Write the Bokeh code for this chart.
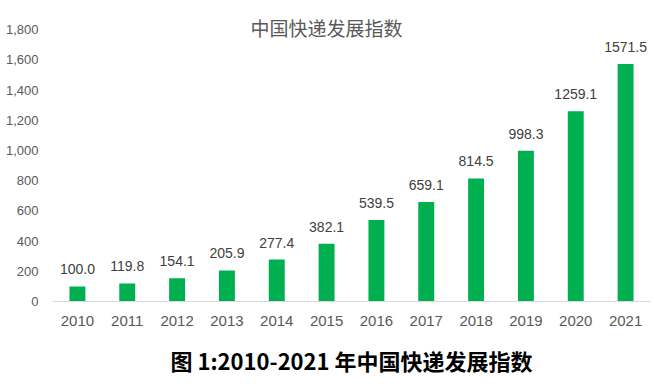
from bokeh.plotting import figure
from bokeh.models import ColumnDataSource, FixedTicker, NumeralTickFormatter, Label, Range1d, Title
from bokeh.core.properties import value
from bokeh.embed import file_html
from bokeh.resources import INLINE

years = ["2010", "2011", "2012", "2013", "2014", "2015", "2016", "2017", "2018", "2019", "2020", "2021"]
values = [100.0, 119.8, 154.1, 205.9, 277.4, 382.1, 539.5, 659.1, 814.5, 998.3, 1259.1, 1571.5]
value_labels = ["100.0", "119.8", "154.1", "205.9", "277.4", "382.1", "539.5", "659.1", "814.5", "998.3", "1259.1", "1571.5"]
y_ticks = [0, 200, 400, 600, 800, 1000, 1200, 1400, 1600, 1800]

title_text = "中国快递发展指数"
caption_text = "图 1:2010-2021 年中国快递发展指数"

src = ColumnDataSource(dict(x=years, top=values, lab=value_labels))

p = figure(x_range=years, y_range=Range1d(0, 1900), width=654, height=389,
           output_backend="svg", toolbar_location=None,
           min_border_left=52, min_border_right=4, min_border_top=14, min_border_bottom=11)
p.x_range.range_padding = 0
p.outline_line_color = None
p.xgrid.grid_line_color = None
p.ygrid.grid_line_color = None
p.background_fill_color = "white"
p.border_fill_color = "white"

p.vbar(x="x", top="top", width=0.32, source=src, color="#00B050", line_color=None)
p.text(x="x", y="top", text="lab", source=src, text_align="center", text_baseline="bottom",
       y_offset=-12, text_font_size="14px", text_color="#404040", text_font=value("Liberation Sans"))

p.yaxis.ticker = FixedTicker(ticks=y_ticks)
p.yaxis.formatter = NumeralTickFormatter(format="0,0")
p.yaxis.axis_line_color = None
p.yaxis.major_tick_line_color = None
p.yaxis.minor_tick_line_color = None
p.yaxis.major_label_text_font_size = "13px"
p.yaxis.major_label_text_color = "#595959"
p.yaxis.major_label_text_font = "Liberation Sans"
p.yaxis.major_label_standoff = 8

p.xaxis.axis_line_color = "#D9D9D9"
p.xaxis.axis_line_width = 1
p.xaxis.major_tick_line_color = None
p.xaxis.minor_tick_line_color = None
p.xaxis.major_label_text_font_size = "15px"
p.xaxis.major_label_text_color = "#595959"
p.xaxis.major_label_text_font = "Liberation Sans"
p.xaxis.major_label_standoff = 8

p.add_layout(Label(x=274, y=274, x_units="screen", y_units="screen", text=title_text,
                   text_align="center", text_baseline="middle", text_font_size="19px",
                   text_color="#595959", text_font="Noto Sans CJK SC"))

cap = Title(text=caption_text, align="center", text_font_size="22px", text_font_style="bold",
            text_color="#000000", text_font="Noto Sans CJK SC", standoff=27)
p.add_layout(cap, "below")

open("out.html", "w").write(file_html(p, INLINE))
